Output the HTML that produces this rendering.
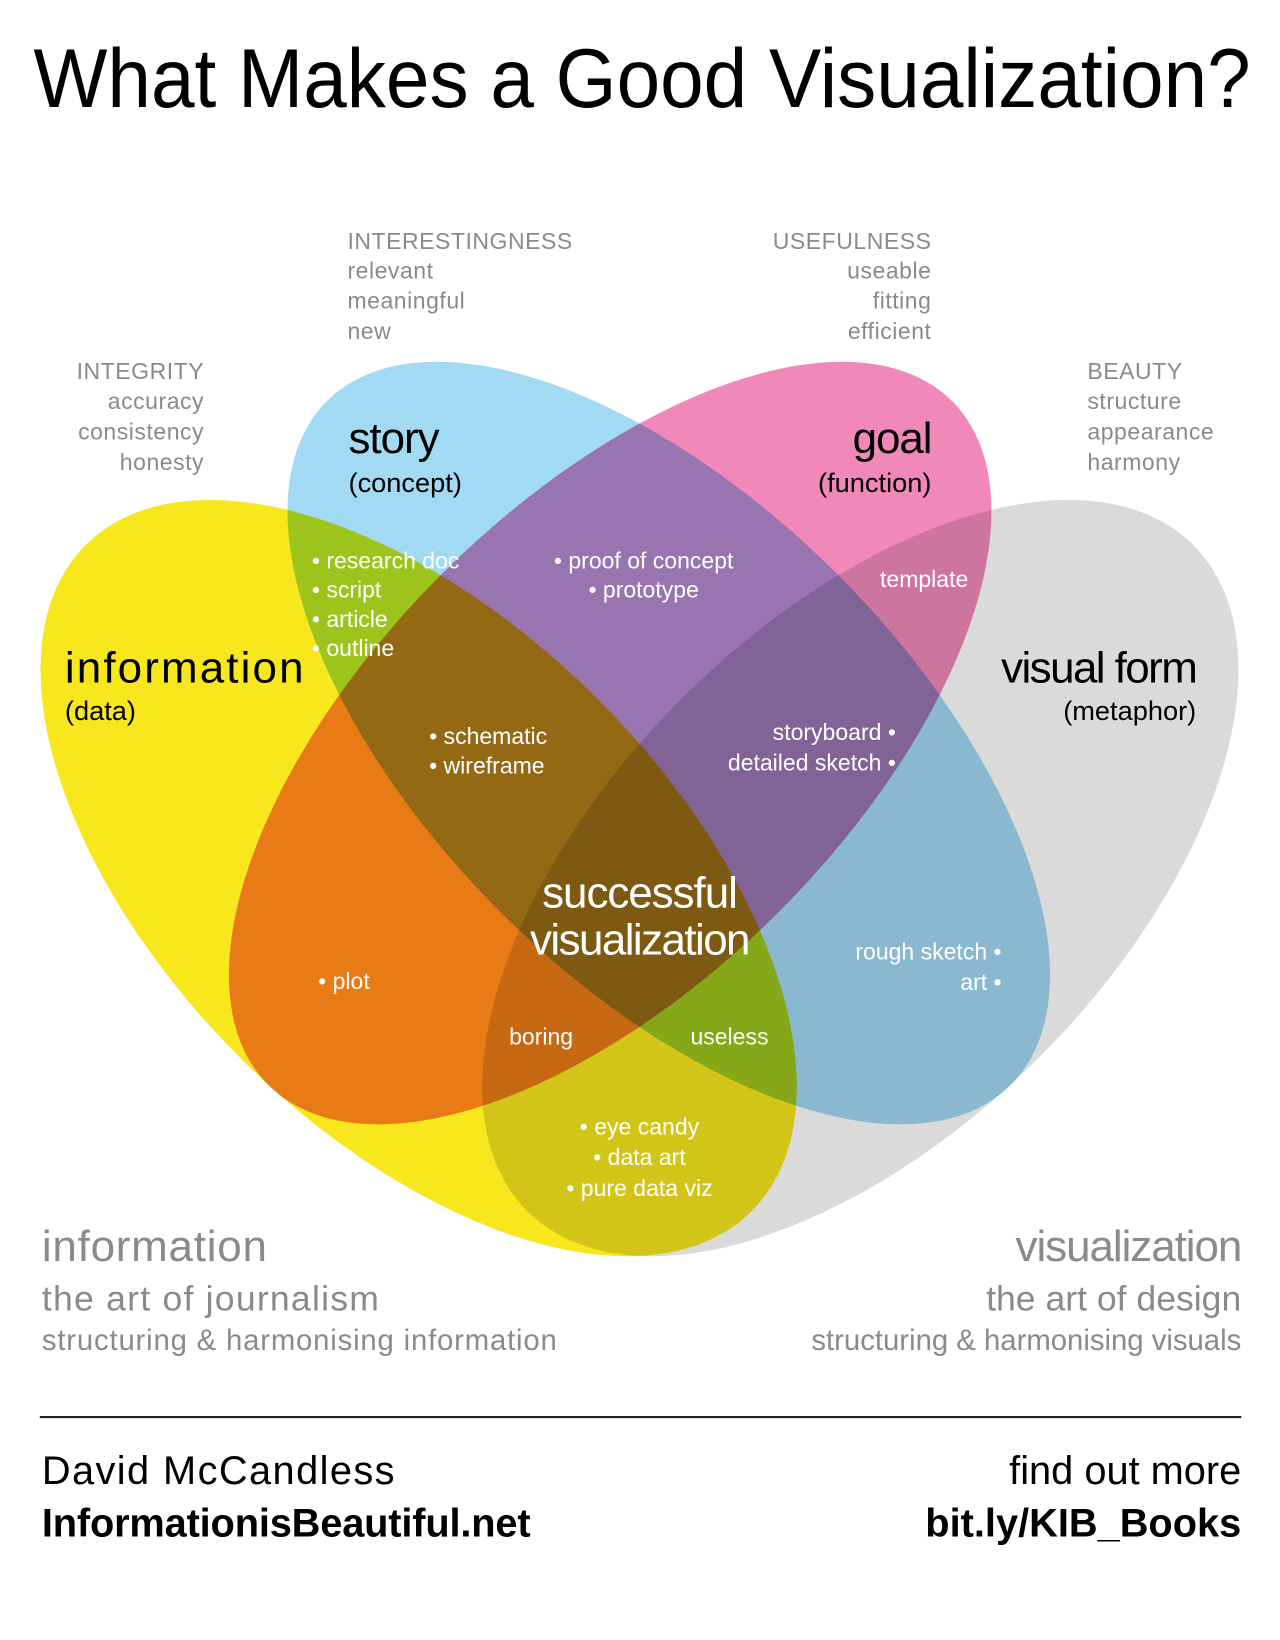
<!DOCTYPE html>
<html><head><meta charset="utf-8"><style>
html,body{margin:0;padding:0;background:#fff}
svg{display:block}
text{font-family:"Liberation Sans",sans-serif}
.g{fill:#8a8a8a;font-size:22px;letter-spacing:0.5px}
.w{fill:#fff;font-size:22px}
.b{fill:#000}
</style></head><body>
<svg width="1280" height="1640" viewBox="0 0 1223 1567" xmlns="http://www.w3.org/2000/svg">
<rect width="1223" height="1567" fill="#fff"/>
<text x="32" y="102" font-size="80" class="b" textLength="1163" lengthAdjust="spacingAndGlyphs">What Makes a Good Visualization?</text>

<g style="isolation:isolate">
<ellipse cx="400" cy="839" rx="450" ry="242" transform="rotate(45 400 839)" fill="#f7e71c" style="mix-blend-mode:multiply"/>
<ellipse cx="822" cy="839" rx="450" ry="242" transform="rotate(-45 822 839)" fill="#dadada" style="mix-blend-mode:multiply"/>
<ellipse cx="639" cy="710" rx="462" ry="228" transform="rotate(45 639 710)" fill="#a2d9f3" style="mix-blend-mode:multiply"/>
<ellipse cx="583" cy="710" rx="462" ry="228" transform="rotate(-45 583 710)" fill="#f088ba" style="mix-blend-mode:multiply"/>
</g>

<g class="g">
<text x="332" y="238">INTERESTINGNESS</text>
<text x="332" y="266">relevant</text>
<text x="332" y="295">meaningful</text>
<text x="332" y="324">new</text>
<g text-anchor="end">
<text x="890" y="238">USEFULNESS</text>
<text x="890" y="266">useable</text>
<text x="890" y="295">fitting</text>
<text x="890" y="324">efficient</text>
<text x="195" y="362">INTEGRITY</text>
<text x="195" y="391">accuracy</text>
<text x="195" y="420">consistency</text>
<text x="195" y="449">honesty</text>
</g>
<text x="1039" y="362">BEAUTY</text>
<text x="1039" y="391">structure</text>
<text x="1039" y="420">appearance</text>
<text x="1039" y="449">harmony</text>
</g>

<g class="b">
<text x="333" y="433" font-size="42" letter-spacing="-1">story</text>
<text x="333" y="470" font-size="26">(concept)</text>
<text x="890" y="433" font-size="42" text-anchor="end" letter-spacing="-1">goal</text>
<text x="890" y="470" font-size="26" text-anchor="end">(function)</text>
<text x="62" y="652" font-size="42" textLength="228">information</text>
<text x="62" y="688" font-size="26">(data)</text>
<text x="1143" y="652" font-size="42" text-anchor="end" letter-spacing="-1.5">visual form</text>
<text x="1143" y="688" font-size="26" text-anchor="end">(metaphor)</text>
</g>

<g class="w">
<text x="298" y="543">• research doc</text>
<text x="298" y="571">• script</text>
<text x="298" y="599">• article</text>
<text x="298" y="627">• outline</text>
<text x="615" y="543" text-anchor="middle">• proof of concept</text>
<text x="615" y="571" text-anchor="middle">• prototype</text>
<text x="883" y="561" text-anchor="middle">template</text>
<text x="410" y="711">• schematic</text>
<text x="410" y="739">• wireframe</text>
<text x="856" y="707" text-anchor="end">storyboard •</text>
<text x="856" y="736" text-anchor="end">detailed sketch •</text>
<text x="611" y="867" text-anchor="middle" font-size="42" letter-spacing="-1">successful</text>
<text x="611" y="912" text-anchor="middle" font-size="42" letter-spacing="-1.5">visualization</text>
<text x="304" y="945">• plot</text>
<text x="957" y="917" text-anchor="end">rough sketch •</text>
<text x="957" y="946" text-anchor="end">art •</text>
<text x="517" y="998" text-anchor="middle">boring</text>
<text x="697" y="998" text-anchor="middle">useless</text>
<text x="611" y="1084" text-anchor="middle">• eye candy</text>
<text x="611" y="1113" text-anchor="middle">• data art</text>
<text x="611" y="1143" text-anchor="middle">• pure data viz</text>
</g>

<g fill="#8a8a8a">
<text x="40" y="1205" font-size="42" textLength="215">information</text>
<text x="40" y="1252" font-size="34" textLength="322">the art of journalism</text>
<text x="40" y="1290" font-size="28" textLength="492">structuring &amp; harmonising information</text>
<text x="1186" y="1205" font-size="42" text-anchor="end" letter-spacing="-1">visualization</text>
<text x="1186" y="1252" font-size="34" text-anchor="end">the art of design</text>
<text x="1186" y="1290" font-size="28" text-anchor="end">structuring &amp; harmonising visuals</text>
</g>

<line x1="38" y1="1354" x2="1186" y2="1354" stroke="#222" stroke-width="2"/>

<g class="b">
<text x="40" y="1418" font-size="38" textLength="337">David McCandless</text>
<text x="40" y="1468" font-size="38" font-weight="bold" textLength="467">InformationisBeautiful.net</text>
<text x="1186" y="1418" font-size="38" text-anchor="end">find out more</text>
<text x="1186" y="1468" font-size="38" font-weight="bold" text-anchor="end">bit.ly/KIB_Books</text>
</g>
</svg>
</body></html>
